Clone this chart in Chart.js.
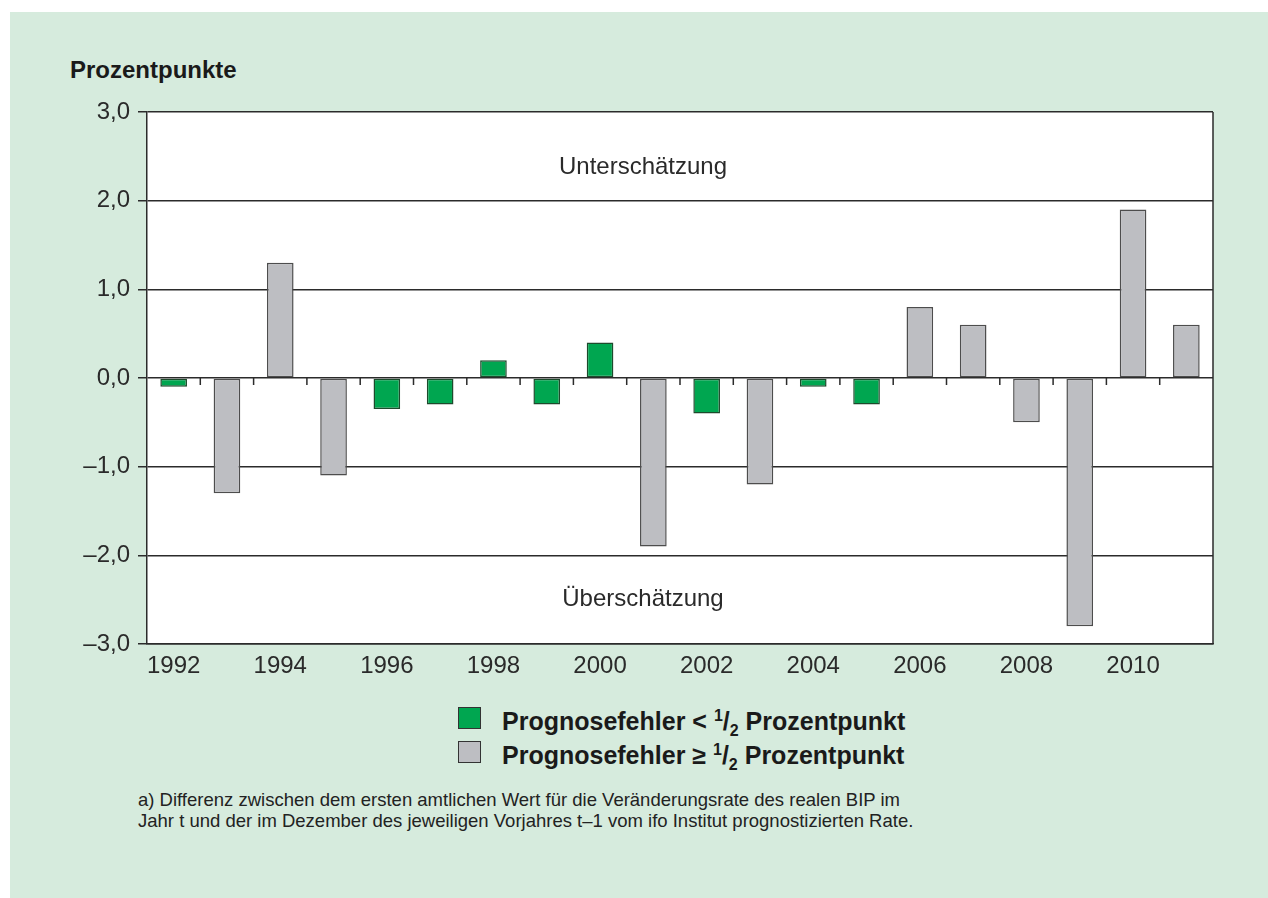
<!DOCTYPE html>
<html lang="de">
<head>
<meta charset="utf-8">
<script src="https://cdn.jsdelivr.net/npm/chart.js@4/dist/chart.umd.min.js"></script>
<style>
    html, body { margin: 0; padding: 0; background: #ffffff; }
    body { width: 1268px; height: 898px; position: relative; overflow: hidden; font-family: "Liberation Sans", Arial, sans-serif; color: #222; }
    #panel { position: absolute; left: 10px; top: 12px; right: 0; bottom: 0; background: #d6ebdd; }
    #wrap { position: absolute; left: 0; top: 0; width: 1268px; height: 700px; }
    #title { position: absolute; left: 70px; top: 58px; font-size: 24px; line-height: 24px; font-weight: bold; color: #1a1a1a; }
    #legend { position: absolute; left: 458px; top: 707px; }
    .row { position: relative; height: 34px; }
    .box { position: absolute; left: 0; top: 0; width: 21px; height: 20px; border: 1.5px solid #333; }
    .txt { position: absolute; left: 44px; top: 2px; white-space: nowrap; font-size: 25px; line-height: 25px; font-weight: bold; color: #1a1a1a; }
    .txt sup, .txt sub { font-size: 16px; line-height: 0; }
    #note { position: absolute; left: 138px; top: 789px; font-size: 18.5px; line-height: 21px; color: #222; }
</style>
</head>
<body>
<div id="panel"></div>
<div id="title">Prozentpunkte</div>
<div id="wrap"><canvas id="chart"></canvas></div>
<div id="legend">
    <div class="row"><span class="box" id="boxSmall"></span><span class="txt">Prognosefehler &lt; <sup>1</sup>/<sub>2</sub> Prozentpunkt</span></div>
    <div class="row"><span class="box" id="boxLarge"></span><span class="txt">Prognosefehler &ge; <sup>1</sup>/<sub>2</sub> Prozentpunkt</span></div>
</div>
<div id="note">a) Differenz zwischen dem ersten amtlichen Wert für die Veränderungsrate des realen BIP im<br>Jahr t und der im Dezember des jeweiligen Vorjahres t–1 vom ifo Institut prognostizierten Rate.</div>
<script>
// Daten
const years = ['1992', '1993', '1994', '1995', '1996', '1997', '1998', '1999', '2000', '2001',
               '2002', '2003', '2004', '2005', '2006', '2007', '2008', '2009', '2010', '2011'];
const errors = [-0.1, -1.3, 1.3, -1.1, -0.35, -0.3, 0.2, -0.3, 0.4, -1.9,
                -0.4, -1.2, -0.1, -0.3, 0.8, 0.6, -0.5, -2.8, 1.9, 0.6];
const yTicks = [-3, -2, -1, 0, 1, 2, 3];
const zoneLabels = ['Unterschätzung', 'Überschätzung'];

const greenFill = '#00a650', greenLine = '#1d4a2c';
const greyFill = '#bdbec2', greyLine = '#4d4d4d';
const gridColor = '#2b2b2b';

document.getElementById('boxSmall').style.background = greenFill;
document.getElementById('boxLarge').style.background = greyFill;

const isSmall = v => Math.abs(v) < 0.5;

// weisser Plotbereich, rechter Rahmen, Striche an der Nulllinie, Beschriftungen
const framePlugin = {
    id: 'frame',
    beforeDraw(chart) {
        const { ctx, chartArea: a } = chart;
        ctx.save();
        ctx.fillStyle = '#ffffff';
        ctx.fillRect(a.left, a.top, a.right - a.left, a.bottom - a.top);
        ctx.restore();
    },
    afterDraw(chart) {
        const { ctx, chartArea: a, scales } = chart;
        const x = scales.x, y = scales.y;
        ctx.save();
        ctx.strokeStyle = gridColor;
        ctx.lineWidth = 1.5;
        ctx.beginPath();
        ctx.moveTo(a.right, a.top);
        ctx.lineTo(a.right, a.bottom);
        const y0 = y.getPixelForValue(0);
        for (let i = 0; i < years.length - 1; i++) {
            const xb = (x.getPixelForValue(i) + x.getPixelForValue(i + 1)) / 2;
            ctx.moveTo(xb, y0);
            ctx.lineTo(xb, y0 + 7);
        }
        ctx.stroke();

        ctx.fillStyle = '#2a2a2a';
        ctx.font = '24px "Liberation Sans", Arial, sans-serif';
        ctx.textAlign = 'center';
        ctx.textBaseline = 'middle';
        const cx = (a.left + a.right) / 2 - 37;
        ctx.fillText(zoneLabels[0], cx, y.getPixelForValue(2.37));
        ctx.fillText(zoneLabels[1], cx, y.getPixelForValue(-2.5));
        ctx.restore();
    }
};

const fmt = v => v.toFixed(1).replace('.', ',').replace('-', '–');

new Chart(document.getElementById('chart'), {
    type: 'bar',
    data: {
        labels: years,
        datasets: [{
            data: errors,
            backgroundColor: errors.map(v => isSmall(v) ? greenFill : greyFill),
            borderColor: errors.map(v => isSmall(v) ? greenLine : greyLine),
            borderWidth: 1.5,
            borderSkipped: false,
            barPercentage: 0.5,
            categoryPercentage: 1.0
        }]
    },
    options: {
        responsive: true,
        maintainAspectRatio: false,
        animation: false,
        layout: { padding: { top: 112, right: 55, left: 0, bottom: 0 } },
        plugins: {
            legend: { display: false },
            tooltip: { enabled: false }
        },
        scales: {
            x: {
                grid: { display: false, drawTicks: false },
                border: { display: true, color: gridColor, width: 1.5 },
                ticks: {
                    autoSkip: false,
                    maxRotation: 0,
                    padding: 8,
                    color: '#2a2a2a',
                    font: { family: '"Liberation Sans", Arial, sans-serif', size: 24 },
                    callback: (val, i) => i % 2 === 0 ? years[i] : ''
                },
                afterFit: s => { s.height = 56; }
            },
            y: {
                min: yTicks[0],
                max: yTicks[yTicks.length - 1],
                afterBuildTicks: s => { s.ticks = yTicks.map(v => ({ value: v })); },
                grid: { color: gridColor, lineWidth: 1.5, tickLength: 9, drawTicks: true },
                border: { display: true, color: gridColor, width: 1.5 },
                ticks: {
                    padding: 8,
                    color: '#2a2a2a',
                    font: { family: '"Liberation Sans", Arial, sans-serif', size: 24 },
                    callback: v => fmt(v)
                },
                afterFit: s => { s.width = 147; }
            }
        }
    },
    plugins: [framePlugin]
});
</script>
</body>
</html>
